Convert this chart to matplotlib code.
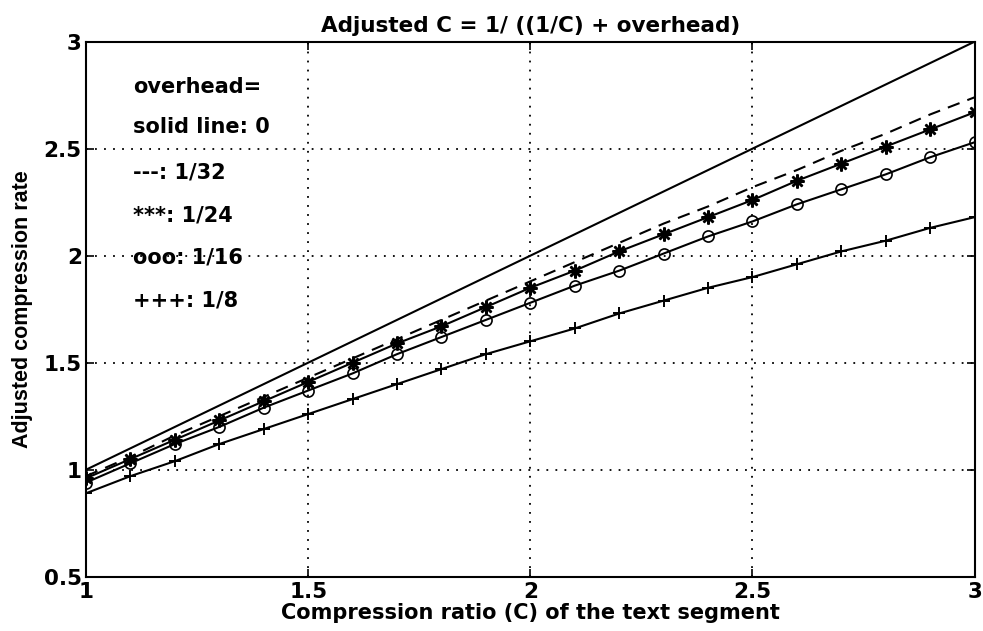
"""
Adjusted compression rate vs. compression ratio for several overhead values.
"""

import matplotlib
matplotlib.use("Agg")
import matplotlib.pyplot as plt

# wide bold sans to mimic the horizontally stretched original
plt.rcParams["font.family"] = ["DejaVu Sans"]
plt.rcParams["font.weight"] = "bold"

# compression ratio C, marker positions
ratio = [1.0, 1.1, 1.2, 1.3, 1.4, 1.5, 1.6, 1.7, 1.8, 1.9, 2.0,
         2.1, 2.2, 2.3, 2.4, 2.5, 2.6, 2.7, 2.8, 2.9, 3.0]

# overhead = 0 (solid line)
solid_x = [1.0, 3.0]
solid_y = [1.0, 3.0]

# overhead = 1/32 (dashed)
dash_y = [0.97, 1.06, 1.16, 1.25, 1.34, 1.43, 1.52, 1.61, 1.70, 1.79, 1.88,
          1.97, 2.06, 2.15, 2.23, 2.32, 2.40, 2.49, 2.57, 2.66, 2.74]

# overhead = 1/24 (stars)
star_y = [0.96, 1.05, 1.14, 1.23, 1.32, 1.41, 1.50, 1.59, 1.67, 1.76, 1.85,
          1.93, 2.02, 2.10, 2.18, 2.26, 2.35, 2.43, 2.51, 2.59, 2.67]

# overhead = 1/16 (circles)
circ_y = [0.94, 1.03, 1.12, 1.20, 1.29, 1.37, 1.45, 1.54, 1.62, 1.70, 1.78,
          1.86, 1.93, 2.01, 2.09, 2.16, 2.24, 2.31, 2.38, 2.46, 2.53]

# overhead = 1/8 (plus)
plus_y = [0.89, 0.97, 1.04, 1.12, 1.19, 1.26, 1.33, 1.40, 1.47, 1.54, 1.60,
          1.66, 1.73, 1.79, 1.85, 1.90, 1.96, 2.02, 2.07, 2.13, 2.18]

notes = ["overhead=", "solid line: 0", "---: 1/32", "***: 1/24",
         "ooo: 1/16", "+++: 1/8"]
note_y = [2.79, 2.60, 2.39, 2.19, 1.99, 1.79]

fig = plt.figure(figsize=(9.83, 6.31), dpi=100)
ax = fig.add_axes([0.0875, 0.086, 0.904, 0.848])

lw = 1.5
ax.plot(solid_x, solid_y, color="black", linewidth=lw)
ax.plot(ratio, dash_y, color="black", linewidth=lw, linestyle=(0, (6, 4)))
ax.plot(ratio, star_y, color="black", linewidth=lw,
        marker=(8, 2, 0), markersize=10, markeredgewidth=1.8)
ax.plot(ratio, circ_y, color="black", linewidth=lw,
        marker="o", markersize=8, markerfacecolor="none", markeredgewidth=1.2)
ax.plot(ratio, plus_y, color="black", linewidth=lw,
        marker="+", markersize=9, markeredgewidth=1.4)

for txt, y in zip(notes, note_y):
    ax.text(1.105, y, txt, fontsize=15, fontweight="bold", va="center", ha="left")

ax.set_xlim(1, 3)
ax.set_ylim(0.5, 3)
ax.set_xticks([1, 1.5, 2, 2.5, 3])
ax.set_xticklabels(["1", "1.5", "2", "2.5", "3"])
ax.set_yticks([0.5, 1, 1.5, 2, 2.5, 3])
ax.set_yticklabels(["0.5", "1", "1.5", "2", "2.5", "3"])
ax.tick_params(direction="in", length=6, width=1.2, labelsize=15.5,
               top=True, right=True)
ax.tick_params(axis="x", pad=4)
ax.tick_params(axis="y", pad=3)
for lab in ax.get_xticklabels() + ax.get_yticklabels():
    lab.set_fontweight("bold")

ax.grid(True, color="black", linestyle=(0, (1, 4)), linewidth=1.3)
for s in ax.spines.values():
    s.set_linewidth(1.5)

ax.set_title("Adjusted C = 1/ ((1/C) + overhead)", fontsize=15.5,
             fontweight="bold", pad=7)
ax.set_xlabel("Compression ratio (C) of the text segment", fontsize=15,
              fontweight="bold")
ax.xaxis.set_label_coords(0.5, -0.05, transform=ax.transAxes)
ax.xaxis.label.set_va("top")
ax.set_ylabel("Adjusted compression rate", fontsize=15.5, fontweight="bold",
              family=["Liberation Sans", "DejaVu Sans"])
ax.yaxis.set_label_coords(-0.06, 0.5)

fig.savefig("out.png", dpi=100)
